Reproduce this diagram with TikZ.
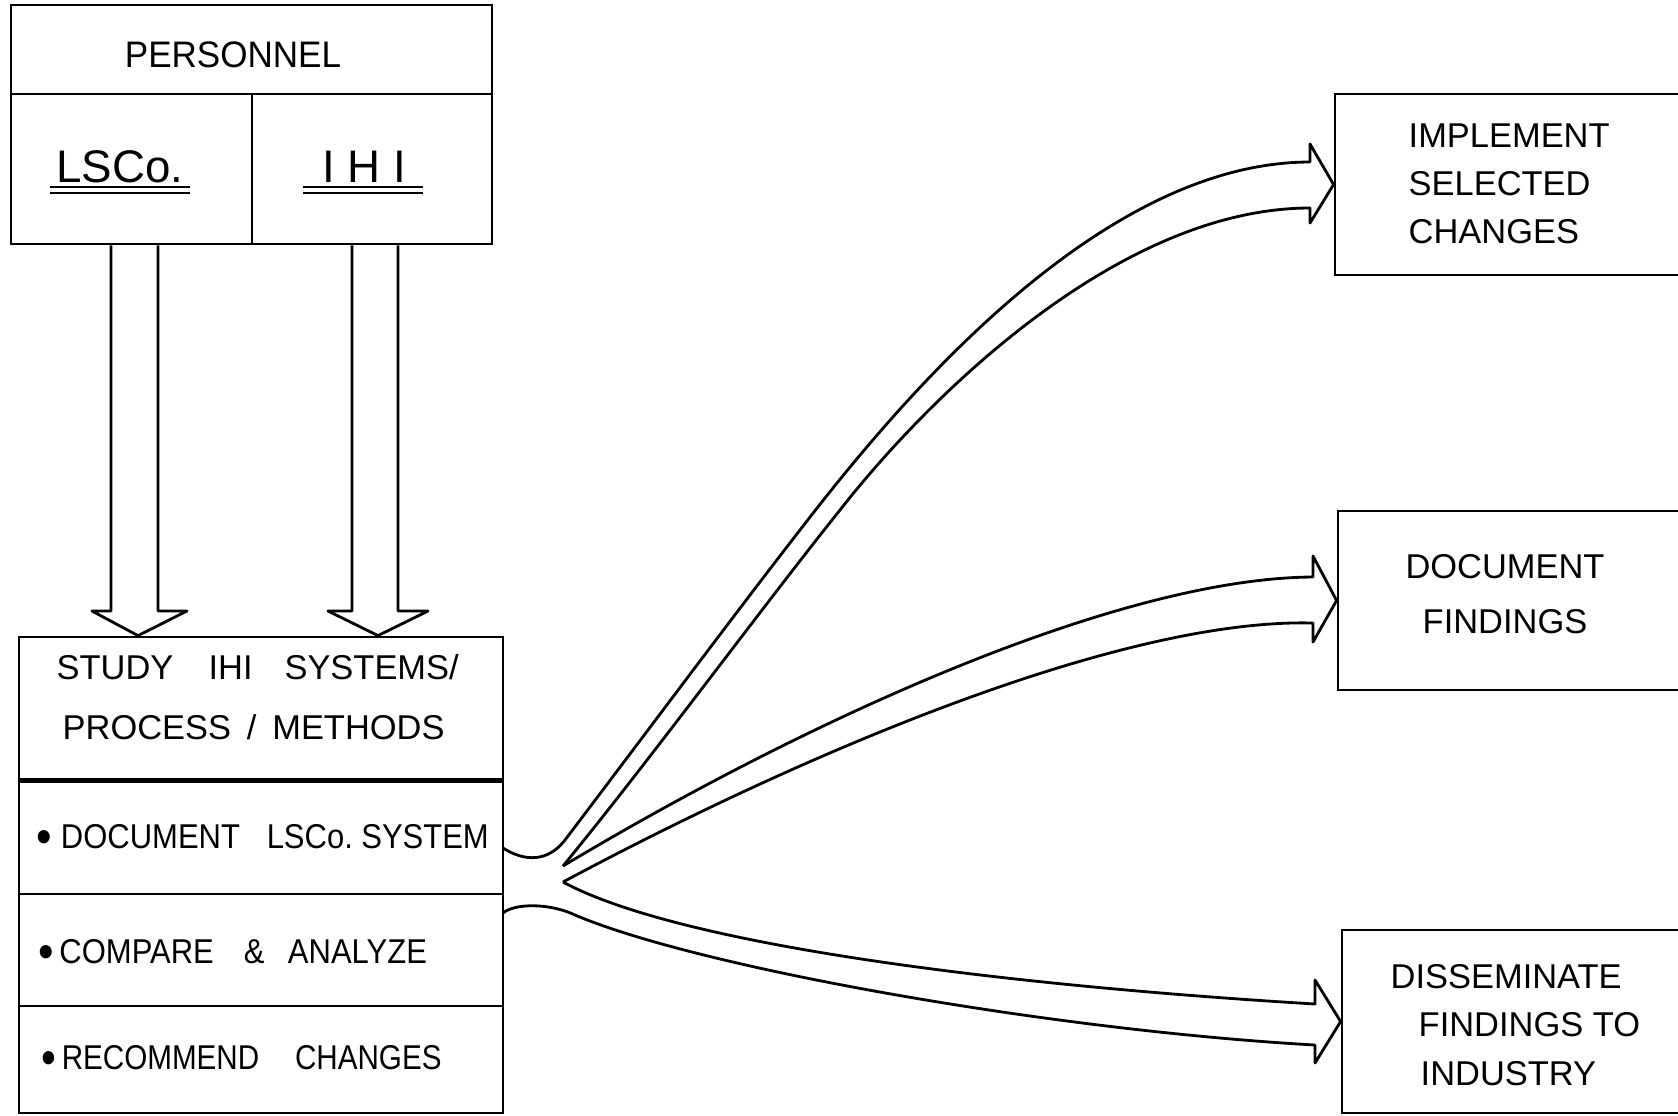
\documentclass[tikz,border=0pt]{standalone}
\usepackage{fontspec}
\setmainfont{Liberation Sans}
\newfontfamily\narrowfont[FakeStretch=0.9]{Liberation Sans}
\newfontfamily\narrowerfont[FakeStretch=0.86]{Liberation Sans}
\newfontfamily\slimfont[FakeStretch=0.95]{Liberation Sans}
\usetikzlibrary{positioning}
\newcommand{\lettering}{\fontsize{9.8}{13}\selectfont}
\newcommand{\biglettering}{\fontsize{13}{16}\selectfont}
\newcommand{\dotmark}{\raisebox{-1.5pt}{\fontsize{14}{14}\selectfont\textbullet}}

\begin{document}
\begin{tikzpicture}[x=0.1mm, y=-0.1mm]
    \tikzstyle{every node}=[font=\lettering, inner sep=0pt]
    \tikzstyle{cell} = [draw, thick, rectangle]
    \tikzstyle{txt} = [anchor=west]
    \tikzstyle{row} = [anchor=west, font=\lettering\narrowfont]
    \tikzstyle{fat} = [thick, line join=round]

    \clip (0,0) rectangle (1678,1115);

    % personnel block
    \node[cell, minimum width=48.1mm, minimum height=8.9mm](personnel) at (251.5,49.5) {};
    \node[cell, minimum width=24.1mm, minimum height=15mm](lsco) at (131.5,169) {};
    \node[cell, minimum width=24mm, minimum height=15mm](ihi) at (372,169) {};
    \node[font=\fontsize{10.5}{13}\selectfont\slimfont](personneltxt) at (233,55) {PERSONNEL};
    \node[font=\biglettering](lscotxt) at (120,167) {LSCo.};
    \node[font=\biglettering](ihitxt) at (364,167) {I H I};
    \draw[semithick] (50,187) -- (190,187) (50,193) -- (190,193);
    \draw[semithick] (303,187) -- (423,187) (303,193) -- (423,193);

    % study block
    \node[cell, minimum width=48.4mm, minimum height=14.2mm](study) at (261,708) {};
    \node[cell, minimum width=48.4mm, minimum height=11.5mm](docsys) at (261,836.5) {};
    \node[cell, minimum width=48.4mm, minimum height=11.2mm](compare) at (261,950) {};
    \node[cell, minimum width=48.4mm, minimum height=10.7mm](recommend) at (261,1059.5) {};
    \draw[line width=1.6pt] (study.south west) -- (study.south east);

    \node[txt](studytxt) at (56,667) {STUDY\hspace{10pt}IHI\hspace{9.1pt}SYSTEMS/};
    \node[txt](processtxt) at (62,727) {PROCESS\hspace{4.5pt}/\hspace{4.5pt}METHODS};
    \node[row](docsystxt) at (36,839) {\dotmark\hspace{2.5pt}DOCUMENT\hspace{7.6pt}LSCo.\hspace{2.4pt}SYSTEM};
    \node[row](comparetxt) at (38,954) {\dotmark\hspace{1.5pt}COMPARE\hspace{8.5pt}\&\hspace{6.7pt}ANALYZE};
    \node[row, font=\lettering\narrowerfont](recommendtxt) at (41,1060) {\dotmark\hspace{1.5pt}RECOMMEND\hspace{10.2pt}CHANGES};

    % personnel feeds the study
    \draw[fat] (111,0 |- lsco.south) -- (111,611) -- (92,611) -- (138,0 |- study.north)
        -- (187,611) -- (158,611) -- (158,0 |- lsco.south);
    \draw[fat] (352,0 |- ihi.south) -- (352,611) -- (328,611) -- (378,0 |- study.north)
        -- (428,611) -- (398,611) -- (398,0 |- ihi.south);

    % outcome boxes
    \node[cell, minimum width=36.5mm, minimum height=18.1mm](impl) at (1517.5,184.5) {};
    \node[cell, minimum width=36.2mm, minimum height=17.9mm](docfind) at (1519,600.5) {};
    \node[cell, minimum width=35.8mm, minimum height=18.3mm](dissem) at (1521,1021.5) {};

    \node[txt, align=left](impltxt) at (1408,184) {IMPLEMENT\\[0.7pt]SELECTED\\[0.7pt]CHANGES};
    \node[align=center](docfindtxt) at (1505,594) {DOCUMENT\\[2.6pt]FINDINGS};
    \node[txt, align=left](dissemtxt) at (1390,1025)
        {DISSEMINATE\\[0.7pt]\hspace*{2.8mm}FINDINGS TO\\[0.7pt]\hspace*{3mm}INDUSTRY};

    % fan of arrows out of the study
    \coordinate (fanA) at (503,848);
    \coordinate (fanB) at (503,913);
    \coordinate (notchA) at (563,866);
    \coordinate (notchB) at (563,882);

    \draw[fat] (fanA) .. controls (525,862) and (548,862) .. (565,840)
        .. controls (640,741) and (740,607) .. (800,530)
        .. controls (900,400) and (1100,162) .. (1310,162)
        -- (1310,144) -- (impl.west) -- (1310,223) -- (1310,208)
        .. controls (1120,208) and (930,395) .. (840,510)
        .. controls (760,610) and (650,760) .. (notchA);
    \draw[fat] (notchA) .. controls (810,718) and (1120,578) .. (1313,577)
        -- (1313,556) -- (docfind.west) -- (1313,642) -- (1313,623)
        .. controls (1120,618) and (800,755) .. (notchB);
    \draw[fat] (notchB) .. controls (680,945) and (1000,985) .. (1315,1004)
        -- (1315,980) -- (dissem.west) -- (1315,1063) -- (1315,1045)
        .. controls (1050,1030) and (700,968) .. (575,915)
        .. controls (550,903) and (515,903) .. (fanB);

\end{tikzpicture}
\end{document}
